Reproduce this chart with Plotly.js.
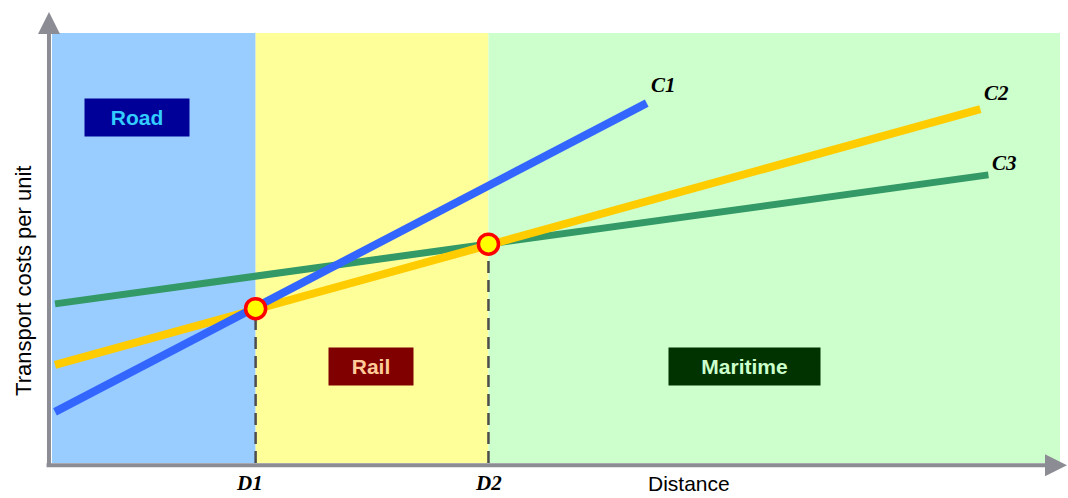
<!DOCTYPE html>
<html>
<head>
<meta charset="utf-8">
<script src="https://cdn.plot.ly/plotly-3.0.1.min.js"></script>
<style>html,body{margin:0;padding:0;background:#fff;}#chart{width:1068px;height:498px;}</style>
</head>
<body>
<div id="chart"></div>
<script>
// Data (distance 0-100, cost 0-100)
const seriesNames = ['C1', 'C2', 'C3'];
const c1X = [0.3, 59.0];
const c1Y = [11.9, 83.7];
const c2X = [0.3, 92.1];
const c2Y = [22.8, 82.3];
const c3X = [0.3, 92.9];
const c3Y = [37.0, 67.0];
const breakX = [20.2, 43.3];          // D1, D2
const breakY = [35.9, 50.9];          // cost at the break-even points
const breakLabels = ['D1', 'D2'];
const modeNames = ['Road', 'Rail', 'Maritime'];
const modeLabelX = [8.4, 31.6, 68.7];
const modeLabelY = [80.3, 22.4, 22.4];
const xMax = 100, yMax = 100;

const axisGray = '#8c8c94';
const regionColors = ['#99ccff', '#ffff99', '#ccffcc'];
const modeBg = ['#000099', '#800000', '#003300'];
const modeFg = ['#33ccff', '#ffcc99', '#ccffcc'];
const modeW = [98, 78, 145];

const traces = [
  {x: c3X, y: c3Y, mode: 'lines', line: {color: '#339966', width: 7}, name: seriesNames[2]},
  {x: c2X, y: c2Y, mode: 'lines', line: {color: '#ffcc00', width: 8}, name: seriesNames[1]},
  {x: c1X, y: c1Y, mode: 'lines', line: {color: '#3366ff', width: 8}, name: seriesNames[0]},
  {x: breakX, y: breakY, mode: 'markers', name: 'break-even',
   marker: {symbol: 'circle', size: 20, color: '#ffff00', line: {color: '#ff0000', width: 3.5}}}
];

const bounds = [0, breakX[0], breakX[1], xMax];
const shapes = [];
for (let i = 0; i < 3; i++) {
  shapes.push({type: 'rect', xref: 'x', yref: 'y', x0: bounds[i], x1: bounds[i + 1], y0: 0, y1: yMax,
    fillcolor: regionColors[i], line: {width: 0}, layer: 'below'});
}
for (let i = 0; i < breakX.length; i++) {
  shapes.push({type: 'line', xref: 'x', yref: 'y', x0: breakX[i], x1: breakX[i], y0: 0, y1: breakY[i],
    line: {color: '#4d4d4d', width: 2.5, dash: '12px,7px'}, layer: 'below'});
}

const annotations = [];
// axes with arrows
annotations.push({xref: 'paper', yref: 'paper', x: -0.003, y: 1.049, ax: 0, ay: 455, text: '',
  showarrow: true, arrowhead: 2, arrowsize: 1.1, arrowwidth: 4, arrowcolor: axisGray});
annotations.push({xref: 'paper', yref: 'paper', x: 1.007, y: -0.005, ax: -1022, ay: 0, text: '',
  showarrow: true, arrowhead: 2, arrowsize: 1.1, arrowwidth: 4, arrowcolor: axisGray});
// mode boxes
for (let i = 0; i < 3; i++) {
  annotations.push({xref: 'x', yref: 'y', x: modeLabelX[i], y: modeLabelY[i], showarrow: false,
    text: '<b>' + modeNames[i] + '</b>', width: modeW[i], height: 31, bgcolor: modeBg[i],
    borderpad: 3, font: {family: 'Liberation Sans, Arial, sans-serif', size: 21, color: modeFg[i]}});
}
// series labels
const ends = [[c1X[1], c1Y[1], 18], [c2X[1], c2Y[1], 16], [c3X[1], c3Y[1], 12]];
for (let i = 0; i < 3; i++) {
  annotations.push({xref: 'x', yref: 'y', x: ends[i][0], y: ends[i][1], xanchor: 'left', yanchor: 'middle',
    xshift: 2, yshift: ends[i][2], showarrow: false, text: '<b><i>' + seriesNames[i] + '</i></b>',
    font: {family: 'Liberation Serif, Times New Roman, serif', size: 21, color: '#000'}});
}
// D labels
const dShift = [-6, 0];
for (let i = 0; i < 2; i++) {
  annotations.push({xref: 'x', yref: 'paper', x: breakX[i], y: -0.047, yanchor: 'middle', xshift: dShift[i],
    showarrow: false, borderpad: 0, text: '<b><i>' + breakLabels[i] + '</i></b>',
    font: {family: 'Liberation Serif, Times New Roman, serif', size: 21, color: '#000'}});
}
// axis titles
annotations.push({xref: 'paper', yref: 'paper', x: 0.674, y: -0.047, yanchor: 'middle', showarrow: false,
  borderpad: 0,
  text: 'Distance', font: {family: 'Liberation Sans, Arial, sans-serif', size: 21, color: '#000'}});
annotations.push({xref: 'paper', yref: 'paper', x: -0.029, y: 0.423, xanchor: 'center', yanchor: 'middle',
  showarrow: false, textangle: -90,
  text: 'Transport costs per unit', font: {family: 'Liberation Sans, Arial, sans-serif', size: 22, color: '#000'}});

const layout = {
  width: 1068, height: 498,
  margin: {l: 52, r: 8, t: 33, b: 35},
  paper_bgcolor: '#ffffff', plot_bgcolor: '#ffffff',
  showlegend: false,
  xaxis: {range: [0, xMax], visible: false, fixedrange: true},
  yaxis: {range: [0, yMax], visible: false, fixedrange: true},
  shapes: shapes,
  annotations: annotations
};

Plotly.newPlot('chart', traces, layout, {displayModeBar: false, staticPlot: true});
</script>
</body>
</html>
